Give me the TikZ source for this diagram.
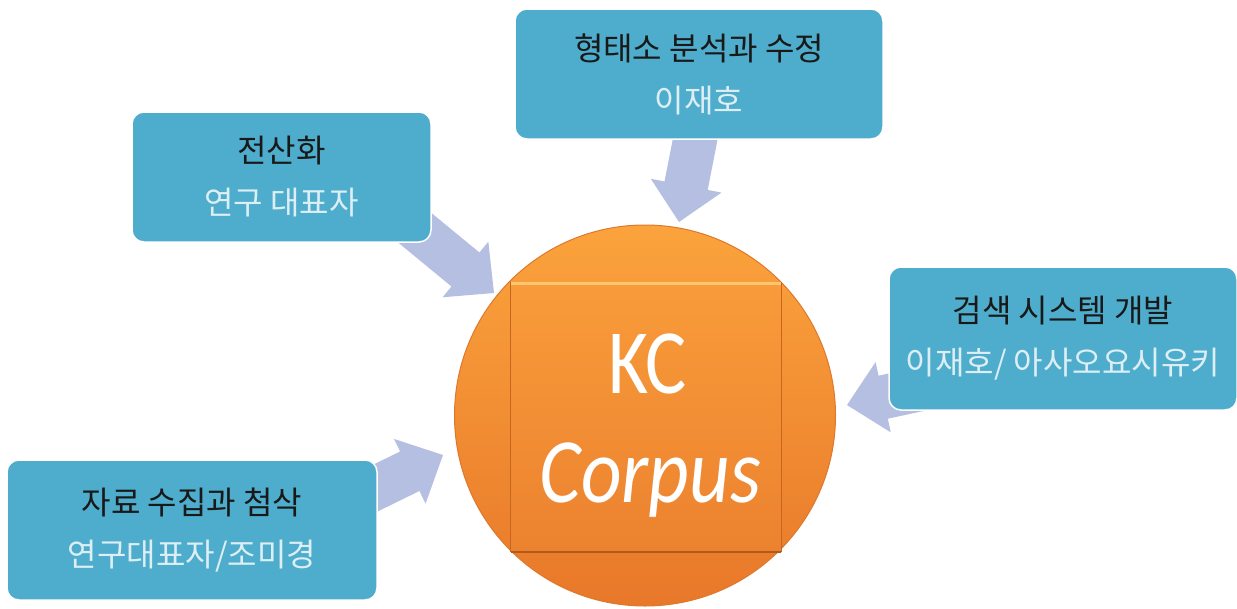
\documentclass[tikz,border=0pt]{standalone}
\usepackage{fontspec}
\newfontfamily\kr{Noto Sans CJK KR}
\newfontfamily\calfont{Carlito}
\usetikzlibrary{calc}
\definecolor{boxc}{HTML}{4EADCC}
\definecolor{lighttext}{HTML}{DDEEF4}
\definecolor{arrowc}{HTML}{B5BFE1}
\definecolor{orTop}{HTML}{FBA33C}
\definecolor{orBot}{HTML}{E8782A}
\definecolor{orEdge}{HTML}{DE782C}
\definecolor{sqTop}{HTML}{F89B3A}
\definecolor{sqBot}{HTML}{EC822F}
\definecolor{sqHi}{HTML}{FCC56F}
\definecolor{sqDark}{HTML}{B05A1C}
\tikzset{
  infobox/.style={rectangle, rounded corners=12pt, fill=boxc, draw=white, line width=1.5pt,
    inner sep=0pt, align=center, text=black!90, font=\kr\fontsize{32}{52}\selectfont},
  flow/.style={fill=arrowc},
  bigtext/.style={anchor=base, text=white, inner sep=0pt}
}
% block arrow from tail #1 to tip #2
\newcommand{\blockarrow}[2]{%
  \coordinate (#2base) at ($(#2)!37pt!(#1)$);
  \fill[flow] ($(#1)!22pt!90:(#2)$) -- ($(#2base)!22pt!-90:(#1)$)
    -- ($(#2base)!36pt!-90:(#1)$) -- (#2) -- ($(#2base)!36pt!90:(#1)$)
    -- ($(#2base)!22pt!90:(#1)$) -- ($(#1)!22pt!-90:(#2)$) -- cycle;
}
\begin{document}
\begin{tikzpicture}[x=1pt,y=-1pt]
\useasboundingbox (0,0) rectangle (1237,608);
% arrow coordinates
\coordinate (t1) at (697,130);  \coordinate (h1) at (679,222);
\coordinate (t2) at (409,223);  \coordinate (h2) at (494,293);
\coordinate (t3) at (935,386);  \coordinate (h3) at (847,405);
\coordinate (t4) at (353,499);  \coordinate (h4) at (443,455);
\blockarrow{t1}{h1}
\blockarrow{t2}{h2}
\blockarrow{t3}{h3}
\blockarrow{t4}{h4}
% boxes
\node[infobox, minimum width=368pt, minimum height=130pt] (morph) at (699,74)
  {형태소 분석과 수정\\\textcolor{lighttext}{이재호}};
\node[infobox, minimum width=299pt, minimum height=130pt] (digit) at (281.5,177)
  {전산화\\\textcolor{lighttext}{연구 대표자}};
\node[infobox, minimum width=348pt, minimum height=143pt] (search) at (1063,338.5)
  {검색 시스템 개발\\\textcolor{lighttext}{이재호/ 아사오요시유키}};
\node[infobox, minimum width=370pt, minimum height=140pt] (collect) at (192,530)
  {자료 수집과 첨삭\\\textcolor{lighttext}{연구대표자/조미경}};
% core
\node[circle, minimum size=381pt, inner sep=0pt, top color=orTop, bottom color=orBot,
  draw=orEdge, line width=1pt] (core) at (645,415.5) {};
\node[rectangle, minimum size=270pt, inner sep=0pt, top color=sqTop, bottom color=sqBot]
  (sq) at (646,417) {};
\draw[sqHi, line width=3pt] ([yshift=-1.5pt]sq.north west) -- ([yshift=-1.5pt]sq.north east);
\draw[sqDark, line width=2pt] (sq.south west) -- (sq.south east);
\draw[sqDark!60!orBot, line width=1pt] (sq.north west) -- (sq.south west);
\draw[sqDark!60!orBot, line width=1pt] (sq.north east) -- (sq.south east);
\node[bigtext, font=\calfont\fontsize{92}{92}\selectfont] (kc) at (647.5,393)
  {\scalebox{0.84}[1]{KC}};
\node[bigtext, font=\calfont\itshape\fontsize{92}{92}\selectfont] (corpus) at (650.5,502)
  {\scalebox{0.86}[1]{Corpus}};
\end{tikzpicture}
\end{document}
